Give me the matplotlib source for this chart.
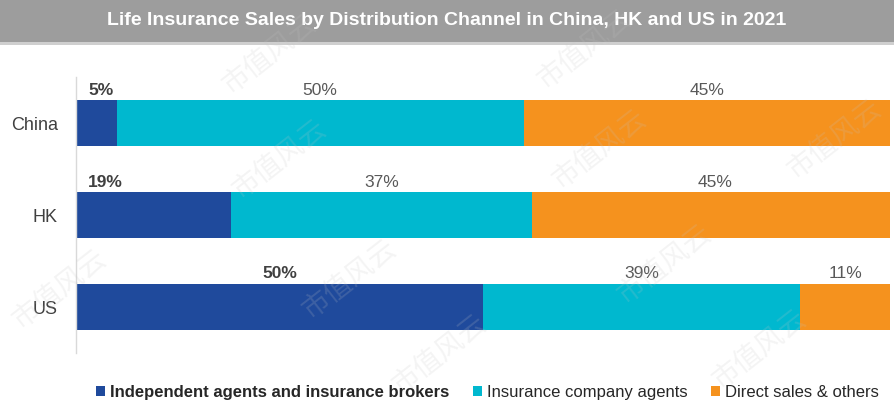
#!/usr/bin/env python
# -*- coding: utf-8 -*-
"""
Life insurance sales by distribution channel, stacked horizontal bars
"""

import numpy as np
import matplotlib
matplotlib.use('Agg')
import matplotlib.pyplot as plt
from matplotlib.patches import Rectangle, Patch

# data
countries = ['China', 'HK', 'US']
independent = [5, 19, 50]
company = [50, 37, 39]
direct = [45, 45, 11]
series_names = ['Independent agents and insurance brokers',
                'Insurance company agents',
                'Direct sales & others']
title = 'Life Insurance Sales by Distribution Channel in China, HK and US in 2021'

colors = ['#1F4A9C', '#00B8CF', '#F5921E']
plt.rcParams['font.family'] = ['Liberation Sans', 'DejaVu Sans']


def plot(fout='out.png'):
    fig = plt.figure(figsize=(8.94, 4.05), dpi=100)

    # title bar
    fig.patches.append(Rectangle((0, 0.896), 1, 0.104, transform=fig.transFigure,
                                 facecolor='#9D9D9D', edgecolor='none', zorder=0))
    fig.patches.append(Rectangle((0, 0.889), 1, 0.007, transform=fig.transFigure,
                                 facecolor='#CFCFCF', edgecolor='none', zorder=0))
    fig.text(0.5, 0.950, title, color='white', fontsize=14, fontweight='bold',
             ha='center', va='center')

    ax = fig.add_axes([0.085, 0.128, 0.9105, 0.681])
    ypos = np.arange(len(countries))
    left = np.zeros(len(countries))
    height = 0.5
    for i, vals in enumerate([independent, company, direct]):
        vals = np.array(vals, dtype=float)
        ax.barh(ypos, vals, height, left=left, color=colors[i], zorder=2)
        for y, l, v in zip(ypos, left, vals):
            if i == 0:
                if v < 25:
                    x, ha = l + 1.5, 'left'
                else:
                    x, ha = l + v / 2., 'center'
                ax.text(x, y - height / 2 - 0.03, '%d%%' % v, ha=ha, va='bottom',
                        fontsize=12.5, fontweight='bold', color='#404040')
            else:
                ax.text(l + v / 2., y - height / 2 - 0.03, '%d%%' % v, ha='center',
                        va='bottom', fontsize=12.5, color='#595959')
        left = left + vals

    ax.set_xlim(0, 100)
    ax.set_ylim(len(countries) - 0.5, -0.5)
    ax.set_yticks(ypos)
    ax.set_yticklabels(countries, fontsize=13, color='#404040')
    ax.tick_params(axis='y', length=0, pad=13)
    ax.set_xticks([])
    for side in ['top', 'right', 'bottom']:
        ax.spines[side].set_visible(False)
    ax.spines['left'].set_color('#D9D9D9')
    ax.spines['left'].set_linewidth(1.0)

    handles = [Patch(facecolor=c, edgecolor='none') for c in colors]
    leg = fig.legend(handles, series_names, loc='center', bbox_to_anchor=(0.545, 0.03),
                     ncol=3, frameon=False, fontsize=12, handlelength=0.55,
                     handleheight=0.55, handletextpad=0.3, columnspacing=1.4)
    for t in leg.get_texts():
        t.set_color('#262626')
    leg.get_texts()[0].set_fontweight('bold')

    # faint watermark
    marks = [(270, 55), (585, 50), (280, 160), (600, 150), (835, 140),
             (60, 290), (350, 280), (665, 265), (440, 355), (760, 350)]
    for mx, my in marks:
        fig.text(mx / 894., 1 - my / 405., u'市值风云', fontsize=20, color='#C4C4C4',
                 alpha=0.18, rotation=38, ha='center', va='center',
                 family=['Noto Sans CJK SC', 'DejaVu Sans'], zorder=5)

    fig.savefig(fout, dpi=100, facecolor='white')
    plt.close(fig)


if __name__ == '__main__':
    plot()
